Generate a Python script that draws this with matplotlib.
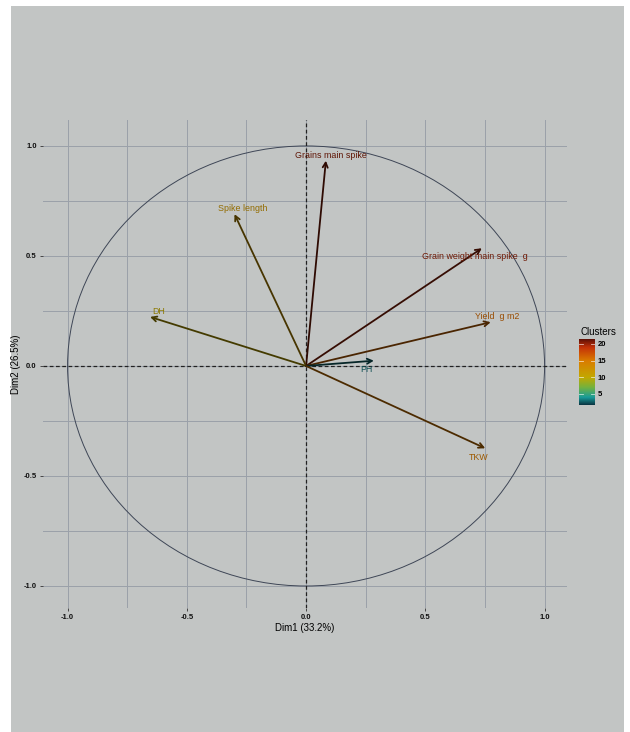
import matplotlib

matplotlib.use("Agg")
import matplotlib.pyplot as plt
import numpy as np
from matplotlib.colors import LinearSegmentedColormap, to_rgb
from matplotlib.patches import Ellipse, Rectangle

plt.rcParams["font.family"] = ["Liberation Sans", "DejaVu Sans"]

# PCA variable loadings (Dim1, Dim2) and cluster value per variable
variables = ["Grains main spike", "Spike length", "DH", "Grain weight main spike  g",
             "Yield  g m2", "PH", "TKW"]
dim1 = [0.083, -0.30, -0.654, 0.737, 0.774, 0.284, 0.751]
dim2 = [0.933, 0.69, 0.223, 0.535, 0.199, 0.024, -0.374]
clusters = [20.5, 12.0, 10.0, 20.0, 16.0, 3.0, 15.0]

x_ticks = [-1.0, -0.5, 0.0, 0.5, 1.0]
y_ticks = [-1.0, -0.5, 0.0, 0.5, 1.0]
cbar_ticks = [5, 10, 15, 20]

BG = "#c2c5c4"
vmin, vmax = 1.7, 21.5
stops = [(1.7, "#0a3442"), (4.0, "#189c9a"), (7.0, "#74b23e"), (10.0, "#c2a800"),
         (15.0, "#da7c00"), (19.0, "#c43208"), (21.5, "#5e1006")]
cmap = LinearSegmentedColormap.from_list(
    "clusters", [((v - vmin) / (vmax - vmin), c) for v, c in stops])

# label offsets (points) relative to arrow tip
label_offsets = {
    "Grains main spike": (4, 4),
    "Spike length": (6, 4),
    "DH": (6, 4),
    "Grain weight main spike  g": (-5, -6),
    "Yield  g m2": (5, 4),
    "PH": (-5, -6),
    "TKW": (-5, -7),
}


def shade(color, factor):
    r, g, b = to_rgb(color)
    return (r * factor, g * factor, b * factor)


fig = plt.figure(figsize=(6.3, 7.32), dpi=100, facecolor="white")
fig.patches.append(Rectangle((11 / 630, 0), 613 / 630, 726 / 732,
                             transform=fig.transFigure, facecolor=BG,
                             edgecolor="none", zorder=-10))

ax = fig.add_axes([43 / 630, 124 / 732, 524 / 630, 488 / 732])
ax.set_facecolor(BG)
ax.patch.set_alpha(0)
for spine in ax.spines.values():
    spine.set_visible(False)

ax.set_xlim(-1.103, 1.094)
ax.set_ylim(-1.1, 1.118)

for g in np.arange(-1.0, 1.01, 0.25):
    ax.axvline(g, color="#9aa0a9", lw=0.7, zorder=0)
    ax.axhline(g, color="#9aa0a9", lw=0.7, zorder=0)

ax.add_patch(Ellipse((0, 0), 2, 2, fill=False, edgecolor="#3e4656", lw=0.7, zorder=1))
ax.axhline(0, color="#222222", lw=0.9, ls=(0, (3, 2)), zorder=2)
ax.axvline(0, color="#222222", lw=0.9, ls=(0, (3, 2)), zorder=2)

norm = plt.Normalize(vmin, vmax)
for name, x, y, c in zip(variables, dim1, dim2, clusters):
    base = cmap(norm(c))
    ax.annotate("", xy=(x, y), xytext=(0, 0),
                arrowprops=dict(arrowstyle="->,head_length=0.35,head_width=0.18",
                                color=shade(base, 0.35), lw=1.3,
                                shrinkA=0, shrinkB=0), zorder=3)
    dx, dy = label_offsets[name]
    ax.annotate(name, xy=(x, y), xytext=(dx, dy), textcoords="offset points",
                ha="center", va="center", fontsize=6.4, color=shade(base, 0.72),
                zorder=4)

ax.set_xticks(x_ticks)
ax.set_yticks(y_ticks)
ax.set_xticklabels([f"{t:.1f}" for t in x_ticks], fontweight="bold")
ax.set_yticklabels([f"{t:.1f}" for t in y_ticks], fontweight="bold")
ax.tick_params(axis="both", length=2.5, width=0.6, color="#333333",
               labelsize=5.5, labelcolor="#111111", pad=2)
ax.set_xlabel("Dim1 (33.2%)", fontsize=7, labelpad=1)
ax.set_ylabel("Dim2 (26.5%)", fontsize=7, labelpad=2)

# colour bar legend
cax = fig.add_axes([579 / 630, (732 - 405) / 732, 16 / 630, 66 / 732])
grad = np.linspace(vmin, vmax, 256).reshape(-1, 1)
cax.imshow(grad, aspect="auto", cmap=cmap, norm=norm, origin="lower",
           extent=[0, 1, vmin, vmax])
cax.set_xticks([])
cax.yaxis.tick_right()
cax.set_yticks(cbar_ticks)
cax.set_yticklabels([str(t) for t in cbar_ticks], fontweight="bold")
cax.tick_params(axis="y", length=0, labelsize=5.5, pad=2)
for t in cbar_ticks:
    cax.plot([0, 0.22], [t, t], color="white", lw=0.6, alpha=0.7)
    cax.plot([0.78, 1], [t, t], color="white", lw=0.6, alpha=0.7)
cax.set_xlim(0, 1)
cax.set_ylim(vmin, vmax)
for spine in cax.spines.values():
    spine.set_visible(False)
fig.text(598 / 630, 1 - 332 / 732, "Clusters", ha="center", va="center", fontsize=7)

fig.savefig("out.png", dpi=100, facecolor="white")
